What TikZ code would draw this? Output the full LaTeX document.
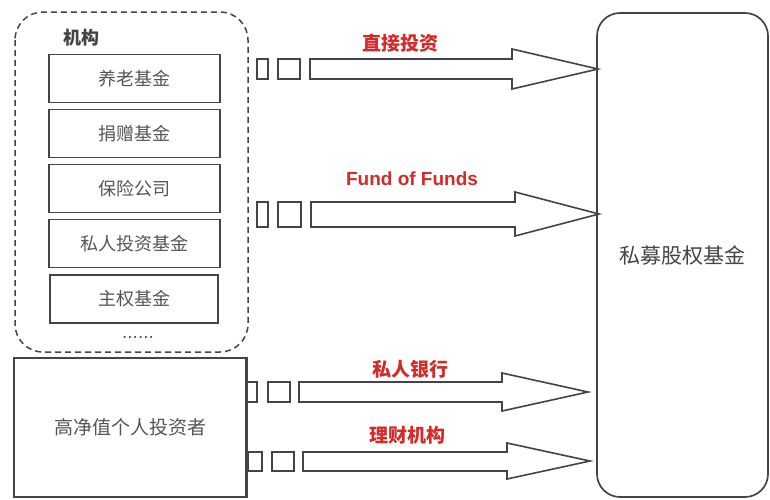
\documentclass[tikz,border=0pt]{standalone}
\usepackage{fontspec}
\setmainfont{Liberation Sans}
\newfontfamily\cjk{Noto Sans CJK SC}
\definecolor{ln}{HTML}{444444}
\definecolor{tx}{HTML}{555555}
\definecolor{rd}{HTML}{D42A2A}
\begin{document}
\begin{tikzpicture}[x=1pt,y=-1pt,
  ibox/.style={draw=ln, line width=1.8pt, fill=white, inner sep=0pt,
    minimum width=171pt, minimum height=48pt, text=tx,
    font=\cjk\fontsize{18}{20}\selectfont},
  arr/.style={draw=ln, line width=1.6pt, fill=white, line join=miter},
  lbl/.style={text=rd, inner sep=0pt, font=\cjk\bfseries\fontsize{19}{22}\selectfont},
  elbl/.style={text=rd, inner sep=0pt, font=\bfseries\fontsize{19}{22}\selectfont}]
\useasboundingbox (0,0) rectangle (770,499);
\fill[white] (0,0) rectangle (770,499);

% institutions group
\draw[ln, line width=1.5pt, dash pattern=on 6pt off 4pt, rounded corners=28pt]
  (15,12) rectangle (248,352);
\node[inner sep=0pt, text=ln, font=\cjk\bfseries\fontsize{18}{20}\selectfont] (jg) at (81,38) {机构};
\node[ibox] (b1) at (134.5,78.5) {养老基金};
\node[ibox] (b2) at (134.5,133.5) {捐赠基金};
\node[ibox] (b3) at (134.5,188.5) {保险公司};
\node[ibox] (b4) at (134.5,243.5) {私人投资基金};
\node[ibox, minimum width=168pt] (b5) at (134,299) {主权基金};
\node[inner sep=0pt, text=tx, font=\fontsize{19}{20}\selectfont] (dots) at (138,337) {......};

% high net worth individuals
\node[draw=ln, line width=1.8pt, minimum width=232pt, minimum height=139pt, inner sep=0pt,
  text=tx, font=\cjk\fontsize{19}{22}\selectfont] (hnw) at (130,427.5) {高净值个人投资者};

% private equity fund
\node[draw=ln, line width=1.7pt, rounded corners=23pt, minimum width=171pt, minimum height=484pt,
  inner sep=0pt, text=ln, font=\cjk\fontsize{21}{24}\selectfont] (pe) at (682.5,255) {私募股权基金};

% arrow 1
\draw[arr] (257,59) rectangle (268,79);
\draw[arr] (278,59) rectangle (300,79);
\draw[arr] (310,59) -- (512,59) -- (512,49) -- (598,69) coordinate (t1) -- (512,89) -- (512,79) -- (310,79) -- cycle;
\node[lbl] (l1) at (400,43) {直接投资};

% arrow 2
\draw[arr] (257,202) rectangle (268,227);
\draw[arr] (278,202) rectangle (301,227);
\draw[arr] (311,202) -- (515,202) -- (515,192) -- (599,214) coordinate (t2) -- (515,236) -- (515,227) -- (311,227) -- cycle;
\node[elbl] (l2) at (412,179) {Fund of Funds};

% arrow 3
\draw[arr] (246,382) rectangle (257,402);
\draw[arr] (268,382) rectangle (290,402);
\draw[arr] (299,382) -- (502,382) -- (502,373) -- (588,392) coordinate (t3) -- (502,411) -- (502,402) -- (299,402) -- cycle;
\node[lbl] (l3) at (410,369) {私人银行};

% arrow 4
\draw[arr] (248,452) rectangle (262,471);
\draw[arr] (272,452) rectangle (294,471);
\draw[arr] (303,452) -- (507,452) -- (507,443) -- (590,461) coordinate (t4) -- (507,479) -- (507,471) -- (303,471) -- cycle;
\node[lbl] (l4) at (407,435) {理财机构};

% redraw hnw border over first rect
\draw[ln, line width=1.8pt] (hnw.north east) -- (hnw.south east);
\end{tikzpicture}
\end{document}
